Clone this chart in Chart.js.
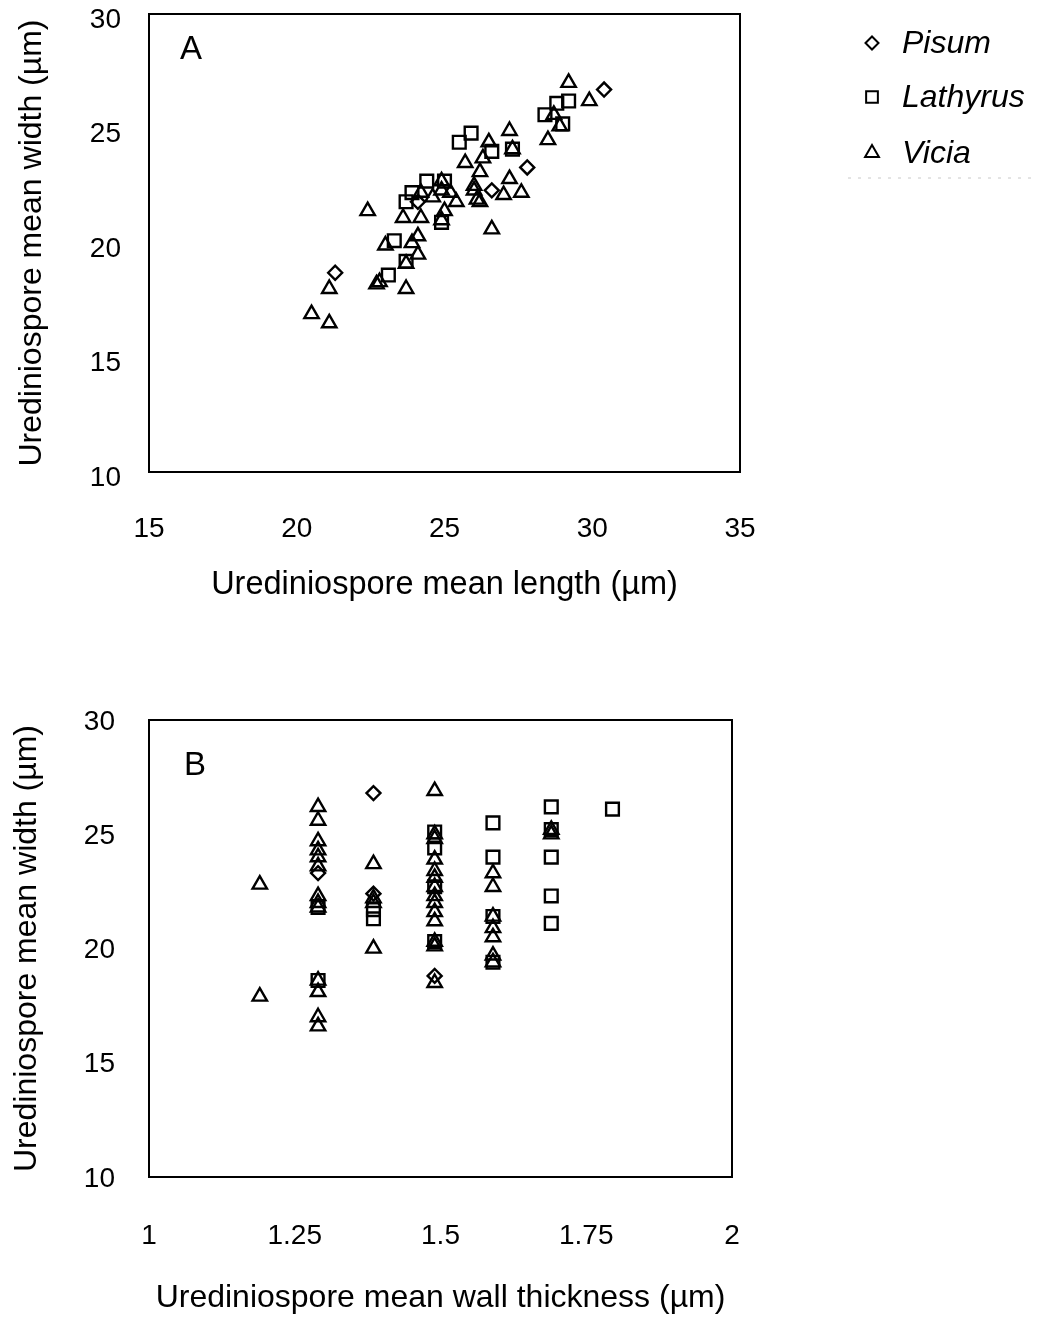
<!DOCTYPE html>
<html><head><meta charset="utf-8">
<script src="https://cdn.jsdelivr.net/npm/chart.js@4.4.1/dist/chart.umd.min.js"></script>
<style>
html,body{margin:0;padding:0;background:#fff;width:1039px;height:1322px;overflow:hidden;}
#a{position:absolute;left:0;top:0;width:1039px;height:620px;}
#b{position:absolute;left:0;top:620px;width:1039px;height:702px;}
</style></head><body>
<div id="a"><canvas id="ca"></canvas></div>
<div id="b"><canvas id="cb"></canvas></div>
<script>
// ---- data ----
const seriesNames = ['Pisum', 'Lathyrus', 'Vicia'];

// Panel A: mean length (x) vs mean width (y)
const pisumLenA = [30.4, 27.8, 26.6, 21.3, 24.1];
const pisumWidA = [26.7, 23.3, 22.3, 18.7, 21.8];
const lathyrusLenA = [29.2, 28.8, 28.4, 29.0, 25.9, 25.5, 26.6, 27.3, 24.4, 25.0, 23.9, 23.7, 24.9, 23.3, 23.7, 23.1];
const lathyrusWidA = [26.2, 26.1, 25.6, 25.2, 24.8, 24.4, 24.0, 24.1, 22.7, 22.7, 22.2, 21.8, 20.9, 20.1, 19.2, 18.6];
const viciaLenA = [20.5, 21.1, 21.1, 22.4, 22.7, 22.8, 23.7, 23.0, 23.9, 24.1, 24.1, 23.7, 23.6, 24.2, 24.2, 24.6, 24.9, 25.2, 25.4, 25.0, 24.9, 26.0, 26.1, 25.7, 26.3, 26.2, 26.0, 26.2, 26.5, 27.2, 27.2, 27.0, 27.6, 26.6, 27.3, 28.5, 28.9, 28.7, 29.2, 29.9, 24.9];
const viciaWidA = [16.9, 16.5, 18.0, 21.4, 18.2, 18.3, 18.0, 19.9, 20.0, 20.3, 19.5, 19.1, 21.1, 21.1, 22.2, 22.0, 22.3, 22.2, 21.8, 21.4, 21.0, 22.3, 21.9, 23.5, 23.7, 23.1, 22.5, 21.8, 24.4, 24.9, 22.8, 22.1, 22.2, 20.6, 24.1, 24.5, 25.1, 25.6, 27.0, 26.2, 22.7];

// Panel B: mean wall thickness (x) vs mean width (y)
const pisumWallB = [1.385, 1.29, 1.385, 1.49];
const pisumWidB = [26.8, 23.3, 22.4, 18.8];
const lathyrusWallB = [1.29, 1.29, 1.385, 1.385, 1.49, 1.49, 1.49, 1.49, 1.59, 1.59, 1.59, 1.59, 1.69, 1.69, 1.69, 1.69, 1.69, 1.795];
const lathyrusWidB = [21.8, 18.6, 21.7, 21.3, 25.1, 24.4, 22.7, 20.3, 25.5, 24.0, 21.4, 19.4, 26.2, 25.2, 24.0, 22.3, 21.1, 26.1];
const viciaWallB = [1.19, 1.19,
  1.29, 1.29, 1.29, 1.29, 1.29, 1.29, 1.29, 1.29, 1.29, 1.29, 1.29, 1.29, 1.29,
  1.385, 1.385, 1.385, 1.385,
  1.49, 1.49, 1.49, 1.49, 1.49, 1.49, 1.49, 1.49, 1.49, 1.49, 1.49, 1.49, 1.49, 1.49,
  1.59, 1.59, 1.59, 1.59, 1.59, 1.59, 1.59,
  1.69, 1.69];
const viciaWidB = [22.8, 17.9,
  26.2, 25.6, 24.7, 24.3, 24.0, 23.6, 22.3, 22.0, 21.8, 18.6, 18.1, 17.0, 16.6,
  23.7, 22.2, 22.0, 20.0,
  26.9, 25.0, 24.8, 23.9, 23.4, 23.1, 22.7, 22.3, 22.0, 21.6, 21.2, 20.3, 20.1, 18.5,
  23.3, 22.7, 21.4, 20.9, 20.5, 19.7, 19.4,
  25.2, 25.0];

const xTicksA = [15, 20, 25, 30, 35];
const xTicksB = [1, 1.25, 1.5, 1.75, 2];
const yTicks = [10, 15, 20, 25, 30];

const xTitleA = 'Urediniospore mean length (µm)';
const xTitleB = 'Urediniospore mean wall thickness (µm)';
const yTitle = 'Urediniospore mean width (µm)';

// ---- styling ----
const FONT = "'Liberation Sans', Arial, sans-serif";
const styles = [
  {pointStyle: 'rectRot', radius: 7},
  {pointStyle: 'rect', radius: 9},
  {pointStyle: 'triangle', radius: 8.3}
];
const legendRadius = [6.5, 8.3, 8];

function pts(xs, ys) { return xs.map((x, i) => ({x: x, y: ys[i]})); }
function makeDatasets(groups) {
  return groups.map((g, i) => ({
    label: seriesNames[i],
    data: pts(g[0], g[1]),
    pointStyle: styles[i].pointStyle,
    pointRadius: styles[i].radius,
    pointBorderWidth: 2.4,
    pointBorderColor: '#000',
    pointBackgroundColor: 'rgba(0,0,0,0)',
    showLine: false
  }));
}

const framePlugin = {
  id: 'frame',
  afterDraw(chart, args, opts) {
    const {ctx, chartArea: a} = chart;
    ctx.save();
    ctx.strokeStyle = '#000';
    ctx.lineWidth = 2;
    ctx.strokeRect(a.left, a.top, a.right - a.left, a.bottom - a.top);
    ctx.fillStyle = '#000';
    ctx.font = '33px ' + FONT;
    ctx.textAlign = 'center';
    ctx.textBaseline = 'middle';
    ctx.fillText(opts.letter, a.left + opts.dx, a.top + opts.dy);
    ctx.restore();
  }
};

const legendPlugin = {
  id: 'sideLegend',
  afterDraw(chart, args, opts) {
    if (!opts.show) return;
    const ctx = chart.ctx;
    const ys = [43, 97, 153];
    ctx.save();
    chart.data.datasets.forEach((ds, i) => {
      ctx.strokeStyle = '#000';
      ctx.fillStyle = 'rgba(0,0,0,0)';
      ctx.lineWidth = 2;
      Chart.helpers.drawPoint(ctx, {pointStyle: ds.pointStyle, rotation: 0, radius: legendRadius[i], borderWidth: 2}, 872, ys[i]);
      ctx.fillStyle = '#000';
      ctx.font = 'italic 32px ' + FONT;
      ctx.textAlign = 'left';
      ctx.textBaseline = 'middle';
      ctx.fillText(ds.label, 902, ys[i] + 1);
    });
    ctx.strokeStyle = '#c8c8c8';
    ctx.lineWidth = 1;
    ctx.setLineDash([3, 7]);
    ctx.beginPath();
    ctx.moveTo(848, 178);
    ctx.lineTo(1035, 178);
    ctx.stroke();
    ctx.restore();
  }
};

function fixedX(h) {
  return function (s) { s.height = h; s.paddingLeft = 0; s.paddingRight = 0; s.paddingTop = 0; s.paddingBottom = 0; };
}
function fixedY(w) {
  return function (s) { s.width = w; s.paddingLeft = 0; s.paddingRight = 0; s.paddingTop = 0; s.paddingBottom = 0; };
}

function makeChart(id, datasets, cfg) {
  return new Chart(document.getElementById(id), {
    type: 'scatter',
    data: {datasets: datasets},
    plugins: [framePlugin, legendPlugin],
    options: {
      responsive: true,
      maintainAspectRatio: false,
      animation: false,
      events: [],
      layout: {padding: cfg.padding},
      plugins: {
        legend: {display: false},
        tooltip: {enabled: false},
        frame: {letter: cfg.letter, dx: cfg.letterDx, dy: cfg.letterDy},
        sideLegend: {show: cfg.legend}
      },
      scales: {
        x: {
          type: 'linear',
          min: cfg.xTicks[0],
          max: cfg.xTicks[cfg.xTicks.length - 1],
          afterBuildTicks: (s) => { s.ticks = cfg.xTicks.map(v => ({value: v})); },
          afterFit: fixedX(cfg.xScaleH),
          grid: {display: false, drawTicks: false},
          border: {display: false},
          ticks: {
            color: '#000',
            font: {family: FONT, size: 28},
            padding: cfg.xTickPad,
            maxRotation: 0,
            autoSkip: false,
            callback: (v) => String(v)
          },
          title: {
            display: true,
            text: cfg.xTitle,
            color: '#000',
            font: {family: FONT, size: cfg.xTitleSize},
            padding: {top: 0, bottom: cfg.xTitlePad}
          }
        },
        y: {
          type: 'linear',
          min: 10,
          max: 30,
          afterBuildTicks: (s) => { s.ticks = yTicks.map(v => ({value: v})); },
          afterFit: fixedY(149),
          grid: {display: false, drawTicks: false},
          border: {display: false},
          ticks: {
            color: '#000',
            font: {family: FONT, size: 28},
            padding: cfg.yTickPad,
            labelOffset: cfg.yLabelOffset,
            autoSkip: false,
            callback: (v) => String(v)
          },
          title: {
            display: true,
            text: yTitle,
            color: '#000',
            font: {family: FONT, size: 32},
            padding: {top: cfg.yTitlePad, bottom: 0}
          }
        }
      }
    }
  });
}

makeChart('ca', makeDatasets([[pisumLenA, pisumWidA], [lathyrusLenA, lathyrusWidA], [viciaLenA, viciaWidA]]), {
  padding: {left: 0, right: 299, top: 14, bottom: 0},
  xTicks: xTicksA, xScaleH: 148, xTickPad: 40, xTitle: xTitleA, xTitleSize: 32.5, xTitlePad: 15,
  yTickPad: 28, yLabelOffset: 6, yTitlePad: 13,
  letter: 'A', letterDx: 42, letterDy: 36, legend: true
});

makeChart('cb', makeDatasets([[pisumWallB, pisumWidB], [lathyrusWallB, lathyrusWidB], [viciaWallB, viciaWidB]]), {
  padding: {left: 0, right: 307, top: 100, bottom: 0},
  xTicks: xTicksB, xScaleH: 145, xTickPad: 42, xTitle: xTitleB, xTitleSize: 32, xTitlePad: 5,
  yTickPad: 34, yLabelOffset: 2, yTitlePad: 8,
  letter: 'B', letterDx: 46, letterDy: 46, legend: false
});
</script>
</body></html>
